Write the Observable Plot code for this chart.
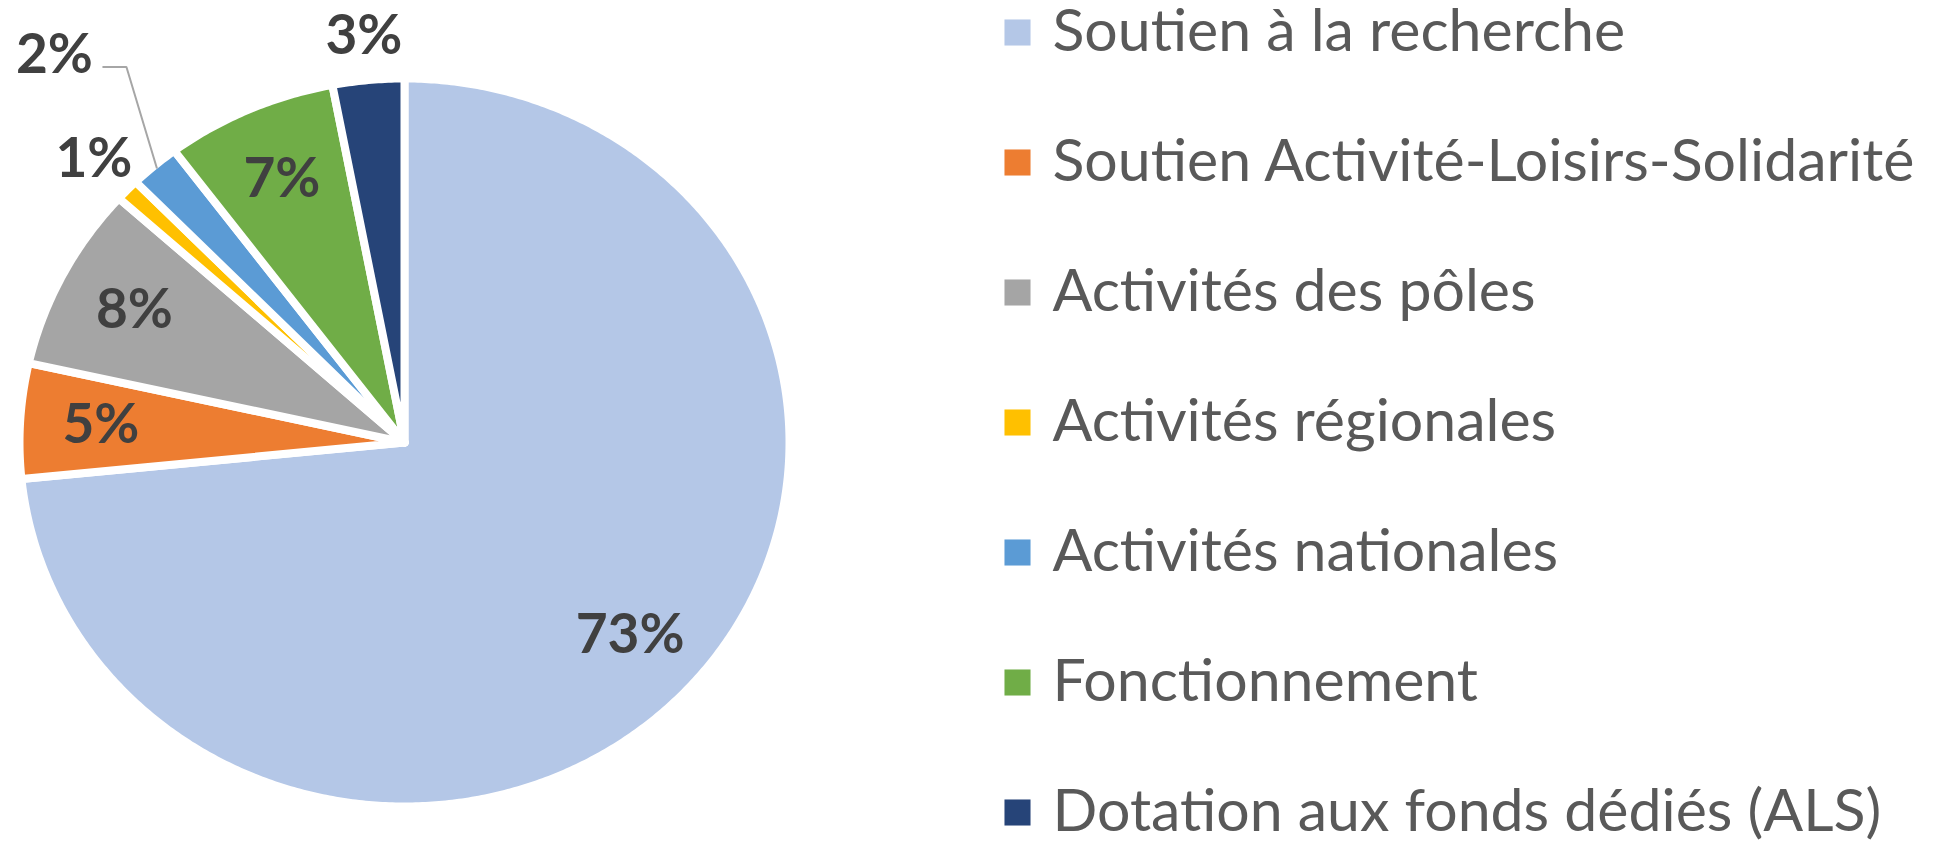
<!DOCTYPE html>
<html><head><meta charset="utf-8">
<script src="https://cdn.jsdelivr.net/npm/d3@7"></script>
<script src="https://cdn.jsdelivr.net/npm/@observablehq/plot@0.6"></script>
<style>
body{margin:0;background:#fff;}
#wrap{position:relative;width:1939px;height:845px;overflow:hidden;}
#pie{position:absolute;left:0;top:0;}
#legend{position:absolute;left:990px;top:0;}
</style></head><body><div id="wrap"><div id="pie"></div><div id="legend"></div></div>
<script>
// ---- data ----
const categories = ["Soutien à la recherche", "Soutien Activité-Loisirs-Solidarité", "Activités des pôles", "Activités régionales", "Activités nationales", "Fonctionnement", "Dotation aux fonds dédiés (ALS)"];
const shares = [73.4, 5.1, 8.2, 1.0, 2.1, 7.2, 3.0];
const labels = ["73%", "5%", "8%", "1%", "2%", "7%", "3%"];
const colors = ["#B4C7E7", "#ED7D31", "#A5A5A5", "#FFC000", "#5B9BD5", "#70AD47", "#264478"];

// ---- geometry (angles clockwise from 12 o'clock) ----
const total = d3.sum(shares);
let acc = 0;
const slices = categories.map((c, i) => {
  const a0 = acc / total * 2 * Math.PI; acc += shares[i];
  const a1 = acc / total * 2 * Math.PI;
  return {category: c, a0, a1, mid: (a0 + a1) / 2, share: shares[i], label: labels[i]};
});
const outline = slices.flatMap(s => {
  const pts = [{category: s.category, x: 0, y: 0}];
  const n = Math.max(2, Math.ceil((s.a1 - s.a0) / (Math.PI / 360)));
  for (let k = 0; k <= n; k++) {
    const a = s.a0 + (s.a1 - s.a0) * k / n;
    pts.push({category: s.category, x: Math.sin(a), y: Math.cos(a)});
  }
  pts.push({category: s.category, x: 0, y: 0});
  return pts;
});

const XR = [19, 789], YR = [806, 78];
const PX = (XR[1] - XR[0]) / 2, PY = (YR[0] - YR[1]) / 2;
const placed = [];
const labelData = slices.map(s => {
  const inside = s.share >= 4;
  let r = inside ? 0.79 : 1.12;
  const pos = () => ({x: r * Math.sin(s.mid), y: r * Math.cos(s.mid)});
  let p = pos();
  if (!inside) {
    while (placed.some(q => Math.hypot((p.x - q.x) * PX, (p.y - q.y) * PY) < 110)) { r += 0.01; p = pos(); }
    placed.push(p);
  }
  return {...s, ...p, r, inside};
});
const leaders = labelData.filter(d => d.r > 1.25).flatMap(d => [
  {category: d.category, x: d.x + 48 / PX, y: d.y - 12 / PY},
  {category: d.category, x: d.x + 72 / PX, y: d.y - 12 / PY},
  {category: d.category, x: 0.99 * Math.sin(d.mid), y: 0.99 * Math.cos(d.mid)}
]);

const pie = Plot.plot({
  width: 990, height: 845, margin: 0,
  x: {domain: [-1, 1], range: XR, axis: null},
  y: {domain: [-1, 1], range: YR, axis: null},
  color: {domain: categories, range: colors},
  marks: [
    Plot.line(outline, {x: "x", y: "y", z: "category", fill: "category", stroke: "white", strokeWidth: 8}),
    Plot.line(leaders, {x: "x", y: "y", z: "category", stroke: "#A6A6A6", strokeWidth: 2, strokeLinejoin: "miter", strokeLinecap: "butt"}),
    Plot.text(labelData, {x: "x", y: "y", text: "label", fontFamily: "Lato", fontWeight: "bold", fontSize: 55, fill: "#404040"})
  ]
});
document.getElementById("pie").appendChild(pie);

const legend = Plot.plot({
  width: 949, height: 845, margin: 0,
  x: {domain: [0, 1], range: [27, 900], axis: null},
  y: {type: "point", domain: categories, range: [32, 812], padding: 0, axis: null},
  color: {domain: categories, range: colors},
  marks: [
    Plot.dot(categories, {x: () => 0, y: d => d, fill: d => d, symbol: "square", r: 14.7}),
    Plot.text(categories, {x: () => 0, y: d => d, text: d => d, dx: 35, textAnchor: "start", fontFamily: "Lato", fontSize: 59, fill: "#595959"})
  ]
});
document.getElementById("legend").appendChild(legend);
</script></body></html>
